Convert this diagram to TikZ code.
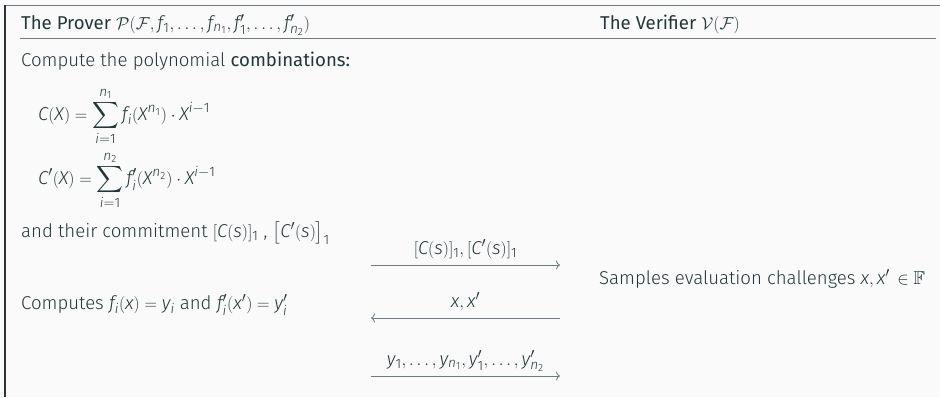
\documentclass[tikz,border=0pt]{standalone}
\usepackage{amsmath,amssymb}
\usepackage{mathspec}
\setmainfont{Fira Sans}[UprightFont={* Light},ItalicFont={* Light Italic},BoldFont={*},BoldItalicFont={* Italic}]
\setmathsfont(Digits,Latin)[UprightFont={* Light},ItalicFont={* Light Italic}]{Fira Sans}
\DeclareMathSizes{18.6}{18.6}{13.6}{10.4}
\usetikzlibrary{arrows.meta,positioning}
\definecolor{mDarkTeal}{HTML}{23373B}
\definecolor{rulegray}{HTML}{6B7C80}
\definecolor{paperbg}{HTML}{FAFAFA}

\begin{document}
\begin{tikzpicture}[x=1pt,y=-1pt,font=\fontsize{18.6}{22}\selectfont,
  txt/.style={anchor=base west,inner sep=0pt,text=mDarkTeal},
  lbl/.style={anchor=base,inner sep=0pt,text=mDarkTeal,yshift=11pt},
  msg/.style={draw=rulegray,line width=0.8pt,-{To[length=4pt,width=9pt]}}]
\fill[paperbg] (0,0) rectangle (940,397);
\useasboundingbox (0,0) rectangle (940,397);
% table frame
\draw[rulegray,line width=1.5pt] (5,5.5) -- (940,5.5);
\draw[mDarkTeal,line width=1.5pt] (5,4.8) -- (5,397);
\draw[rulegray,line width=1.5pt] (20,38.5) -- (936,38.5);
% headers
\node[txt] (prover) at (21,29) {\textbf{The Prover} $\mathcal{P}(\mathcal{F},f_1,\dots,f_{n_1},f'_1,\dots,f'_{n_2})$};
\node[txt] (verifier) at (600,29) {\textbf{The Verifier} $\mathcal{V}(\mathcal{F})$};
% prover side
\node[txt] (compute) at (21,66) {Compute the polynomial \textbf{combinations:}};
\node[txt] (eqC) at (38,120) {$\displaystyle C(X)=\sum_{i=1}^{n_1} f_i(X^{n_1})\cdot X^{i-1}$};
\node[txt] (eqCp) at (38,184) {$\displaystyle C'(X)=\sum_{i=1}^{n_2} f'_i(X^{n_2})\cdot X^{i-1}$};
\node[txt] (commit) at (21,237) {and their commitment $[C(s)]_1$ , $\big[C'(s)\big]_1$};
\node[txt] (computes) at (21,309) {Computes $f_i(x)=y_i$ and $f'_i(x')=y'_i$};
% verifier side
\node[txt] (samples) at (599,284) {Samples evaluation challenges $x,x'\,\in\mathbb{F}$};
% messages
\coordinate (m1a) at (371,265);
\coordinate (m1b) at (560,265);
\coordinate (m2a) at (371,318);
\coordinate (m2b) at (560,318);
\coordinate (m3a) at (371,376);
\coordinate (m3b) at (560,376);
\draw[msg] (m1a) -- node[lbl] (m1) {$[C(s)]_1,[C'(s)]_1$} (m1b);
\draw[msg] (m2b) -- node[lbl] (m2) {$x,x'$} (m2a);
\draw[msg] (m3a) -- node[lbl] (m3) {$y_1,\dots,y_{n_1},y'_1,\dots,y'_{n_2}$} (m3b);
\end{tikzpicture}
\end{document}
